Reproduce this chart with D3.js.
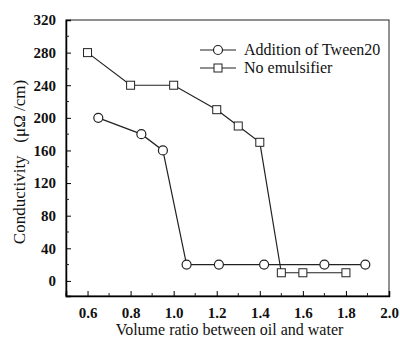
<!DOCTYPE html>
<html>
<head>
<meta charset="utf-8">
<script src="https://cdn.jsdelivr.net/npm/d3@7"></script>
<style>
  body { margin: 0; background: #fff; }
  svg text { fill: #111; white-space: pre; }
</style>
</head>
<body>
<div id="vis"></div>
<script>
// data
const tweenX = [0.65, 0.85, 0.95, 1.06, 1.21, 1.42, 1.70, 1.89];
const tweenY = [200, 180, 160, 20, 20, 20, 20, 20];
const noEmX = [0.6, 0.8, 1.0, 1.2, 1.3, 1.4, 1.5, 1.6, 1.8];
const noEmY = [280, 240, 240, 210, 190, 170, 10, 10, 10];
const xTicks = [0.6, 0.8, 1.0, 1.2, 1.4, 1.6, 1.8, 2.0];
const yTicks = [0, 40, 80, 120, 160, 200, 240, 280, 320];
const seriesNames = ["Addition of Tween20", "No emulsifier"];

const W = 400, H = 344;
const serif = "Liberation Serif";
const svg = d3.select("#vis").append("svg").attr("width", W).attr("height", H);

const margin = { top: 20, right: 11, bottom: 48, left: 66 };

const x = d3.scaleLinear().domain([0.5, 2.0]).range([margin.left, W - margin.right]);
const y = d3.scaleLinear().domain([-18.5, 320]).range([H - margin.bottom, margin.top]);

// frame
svg.append("rect")
  .attr("x", margin.left).attr("y", margin.top)
  .attr("width", W - margin.right - margin.left)
  .attr("height", H - margin.bottom - margin.top)
  .attr("fill", "none").attr("stroke", "#222").attr("stroke-width", 1);

// bottom axis, ticks inward
const xAxis = svg.append("g")
  .attr("transform", "translate(0," + (H - margin.bottom) + ")")
  .call(d3.axisBottom(x).tickValues(xTicks).tickSize(-5).tickPadding(11).tickFormat(d3.format(".1f")));
xAxis.select(".domain").attr("stroke-width", 1.5);
xAxis.selectAll("text").style("font-family", serif).attr("font-size", 15).attr("font-weight", "bold");

// minor x ticks
svg.append("g").selectAll("line")
  .data(d3.range(0.5, 2.0, 0.1).map(v => Math.round(v * 10) / 10).filter(v => !xTicks.includes(v)))
  .enter().append("line")
  .attr("x1", d => x(d)).attr("x2", d => x(d))
  .attr("y1", H - margin.bottom).attr("y2", H - margin.bottom - 3)
  .attr("stroke", "#222");

// left axis
const yAxis = svg.append("g")
  .attr("transform", "translate(" + margin.left + ",0)")
  .call(d3.axisLeft(y).tickValues(yTicks).tickSize(-5).tickPadding(10));
yAxis.select(".domain").attr("stroke-width", 1.5);
yAxis.selectAll("text").style("font-family", serif).attr("font-size", 15).attr("font-weight", "bold");

svg.append("g").selectAll("line")
  .data(d3.range(20, 320, 40))
  .enter().append("line")
  .attr("x1", margin.left).attr("x2", margin.left + 3)
  .attr("y1", d => y(d)).attr("y2", d => y(d))
  .attr("stroke", "#222");

// axis titles
svg.append("text")
  .attr("x", (margin.left + W - margin.right) / 2 + 2).attr("y", 335)
  .attr("text-anchor", "middle").style("font-family", serif).attr("font-size", 16)
  .text("Volume ratio between oil and water");

svg.append("text")
  .attr("transform", "translate(25," + 162 + ") rotate(-90)")
  .attr("text-anchor", "middle").style("font-family", serif).attr("font-size", 17)
  .text("Conductivity   (\u03bc\u03a9 /cm)");

const line = d3.line().x(d => x(d[0])).y(d => y(d[1]));

const tween = tweenX.map((v, i) => [v, tweenY[i]]);
const noEm = noEmX.map((v, i) => [v, noEmY[i]]);

svg.append("path").datum(tween)
  .attr("d", line).attr("fill", "none").attr("stroke", "#222").attr("stroke-width", 1.2);
svg.append("path").datum(noEm)
  .attr("d", line).attr("fill", "none").attr("stroke", "#222").attr("stroke-width", 1.2);

svg.selectAll(".circ").data(tween).enter().append("circle")
  .attr("cx", d => x(d[0])).attr("cy", d => y(d[1])).attr("r", 4.5)
  .attr("fill", "#fff").attr("stroke", "#222").attr("stroke-width", 1.2);

svg.selectAll(".sq").data(noEm).enter().append("rect")
  .attr("x", d => x(d[0]) - 4).attr("y", d => y(d[1]) - 4)
  .attr("width", 8).attr("height", 8)
  .attr("fill", "#fff").attr("stroke", "#222").attr("stroke-width", 1);

// legend
const legend = svg.append("g");
seriesNames.forEach((name, i) => {
  const ly = 50 + i * 18;
  legend.append("line").attr("x1", 200).attr("x2", 236).attr("y1", ly).attr("y2", ly)
    .attr("stroke", "#222").attr("stroke-width", 1.2);
  if (i === 0) {
    legend.append("circle").attr("cx", 218).attr("cy", ly).attr("r", 4.5)
      .attr("fill", "#fff").attr("stroke", "#222").attr("stroke-width", 1.2);
  } else {
    legend.append("rect").attr("x", 214).attr("y", ly - 4).attr("width", 8).attr("height", 8)
      .attr("fill", "#fff").attr("stroke", "#222");
  }
  legend.append("text").attr("x", 244).attr("y", ly + 5)
    .style("font-family", serif).attr("font-size", 16).text(name);
});
</script>
</body>
</html>
